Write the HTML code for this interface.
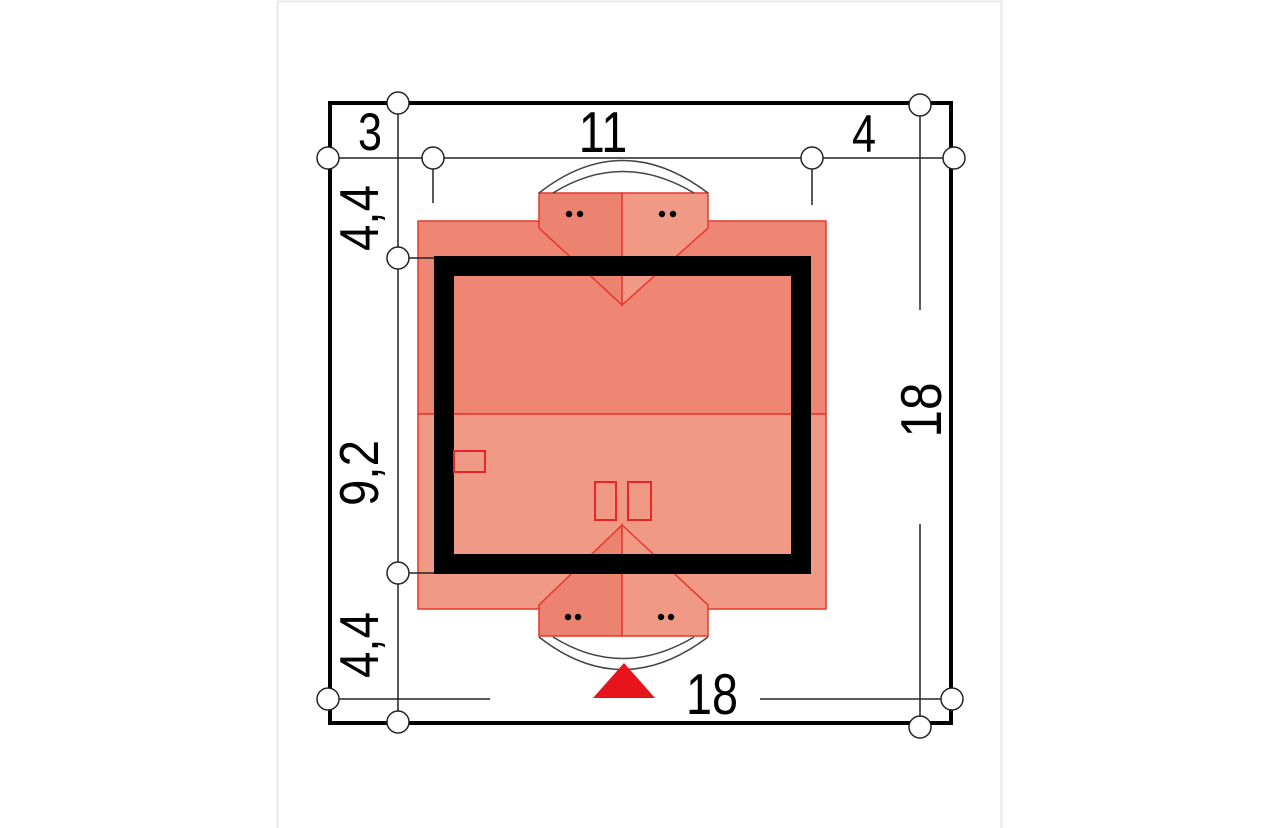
<!DOCTYPE html>
<html><head><meta charset="utf-8"><style>
html,body{margin:0;padding:0;background:#fff;}
svg{display:block;}
text{font-family:"Liberation Sans",sans-serif;fill:#000;}
</style></head><body>
<svg width="1280" height="828" viewBox="0 0 1280 828" xmlns="http://www.w3.org/2000/svg">
<rect x="0" y="0" width="1280" height="828" fill="#fff"/>
<rect x="277.5" y="1.5" width="724" height="830" fill="#fff" stroke="#e8e8e8" stroke-width="2"/>

<!-- roof -->
<rect x="418" y="221" width="408" height="193" fill="#ef8674" stroke="#e8362c" stroke-width="1.5"/>
<rect x="418" y="414" width="408" height="195" fill="#f09a86" stroke="#e8362c" stroke-width="1.5"/>

<!-- top dormer -->
<path d="M539,228 L539,193 L622,193 L622,305 Z" fill="#ec8270" stroke="#e8362c" stroke-width="1.5"/>
<path d="M622,193 L708,193 L708,228 L622,305 Z" fill="#f09a86" stroke="#e8362c" stroke-width="1.5"/>
<path d="M539,193 Q622,128 708,193" fill="none" stroke="#444" stroke-width="1.5"/>
<path d="M553,193 Q622,150 694,193" fill="none" stroke="#444" stroke-width="1.5"/>
<circle cx="569" cy="214" r="3.2" fill="#000"/><circle cx="580" cy="214" r="3.2" fill="#000"/>
<circle cx="662" cy="214" r="3.2" fill="#000"/><circle cx="673" cy="214" r="3.2" fill="#000"/>

<!-- bottom dormer -->
<path d="M539,605 L539,636 L622,636 L622,525 Z" fill="#ec8270" stroke="#e8362c" stroke-width="1.5"/>
<path d="M622,525 L708,605 L708,636 L622,636 Z" fill="#f09a86" stroke="#e8362c" stroke-width="1.5"/>
<path d="M539,637 Q622,702 708,637" fill="none" stroke="#444" stroke-width="1.5"/>
<path d="M553,637 Q622,680 694,637" fill="none" stroke="#444" stroke-width="1.5"/>
<circle cx="568" cy="617" r="3.2" fill="#000"/><circle cx="578" cy="617" r="3.2" fill="#000"/>
<circle cx="661" cy="617" r="3.2" fill="#000"/><circle cx="671" cy="617" r="3.2" fill="#000"/>

<!-- walls -->
<rect x="444" y="266" width="357" height="298" fill="none" stroke="#000" stroke-width="20"/>
<rect x="454" y="451" width="31" height="21" fill="none" stroke="#e8262a" stroke-width="2"/>
<rect x="595" y="482" width="21" height="38" fill="none" stroke="#e8262a" stroke-width="2"/>
<rect x="628" y="482" width="23" height="38" fill="none" stroke="#e8262a" stroke-width="2"/>
<path d="M593,698 L655,698 L624,663 Z" fill="#e8141c"/>

<!-- frame -->
<rect x="330" y="103" width="621" height="620" fill="none" stroke="#000" stroke-width="4"/>
<g stroke="#222" stroke-width="1.5" fill="none">
<line x1="328" y1="158" x2="954" y2="158"/>
<line x1="398" y1="103" x2="398" y2="722"/>
<line x1="920" y1="105" x2="920" y2="310"/>
<line x1="920" y1="524" x2="920" y2="727"/>
<line x1="433" y1="158" x2="433" y2="203"/>
<line x1="812" y1="158" x2="812" y2="205"/>
<line x1="328" y1="699" x2="490" y2="699"/>
<line x1="760" y1="699" x2="952" y2="699"/>
<line x1="398" y1="258" x2="434" y2="258"/>
<line x1="398" y1="573" x2="434" y2="573"/>
</g>
<g fill="#fff" stroke="#222" stroke-width="1.5">
<circle cx="398" cy="103" r="11"/><circle cx="920" cy="105" r="11"/>
<circle cx="328" cy="158" r="11"/><circle cx="433" cy="158" r="11"/>
<circle cx="812" cy="158" r="11"/><circle cx="954" cy="158" r="11"/>
<circle cx="398" cy="258" r="11"/><circle cx="398" cy="573" r="11"/>
<circle cx="328" cy="699" r="11"/><circle cx="398" cy="722" r="11"/>
<circle cx="920" cy="727" r="11"/><circle cx="952" cy="699" r="11"/>
</g>

<!-- labels -->
<text transform="translate(603,152) scale(0.9,1.1)" font-size="52" text-anchor="middle">11</text>
<text transform="translate(370,150) scale(0.9,1.1)" font-size="48" text-anchor="middle">3</text>
<text transform="translate(864,152) scale(0.9,1.1)" font-size="48" text-anchor="middle">4</text>
<text transform="translate(712,714) scale(0.9,1.1)" font-size="52" text-anchor="middle">18</text>
<text transform="translate(378,218) rotate(-90) scale(0.95,1.1)" font-size="50" text-anchor="middle">4,4</text>
<text transform="translate(378,473) rotate(-90) scale(0.95,1.1)" font-size="50" text-anchor="middle">9,2</text>
<text transform="translate(378,645) rotate(-90) scale(0.95,1.1)" font-size="50" text-anchor="middle">4,4</text>
<text transform="translate(941,410) rotate(-90) scale(0.95,1.1)" font-size="52" text-anchor="middle">18</text>
</svg>
</body></html>
